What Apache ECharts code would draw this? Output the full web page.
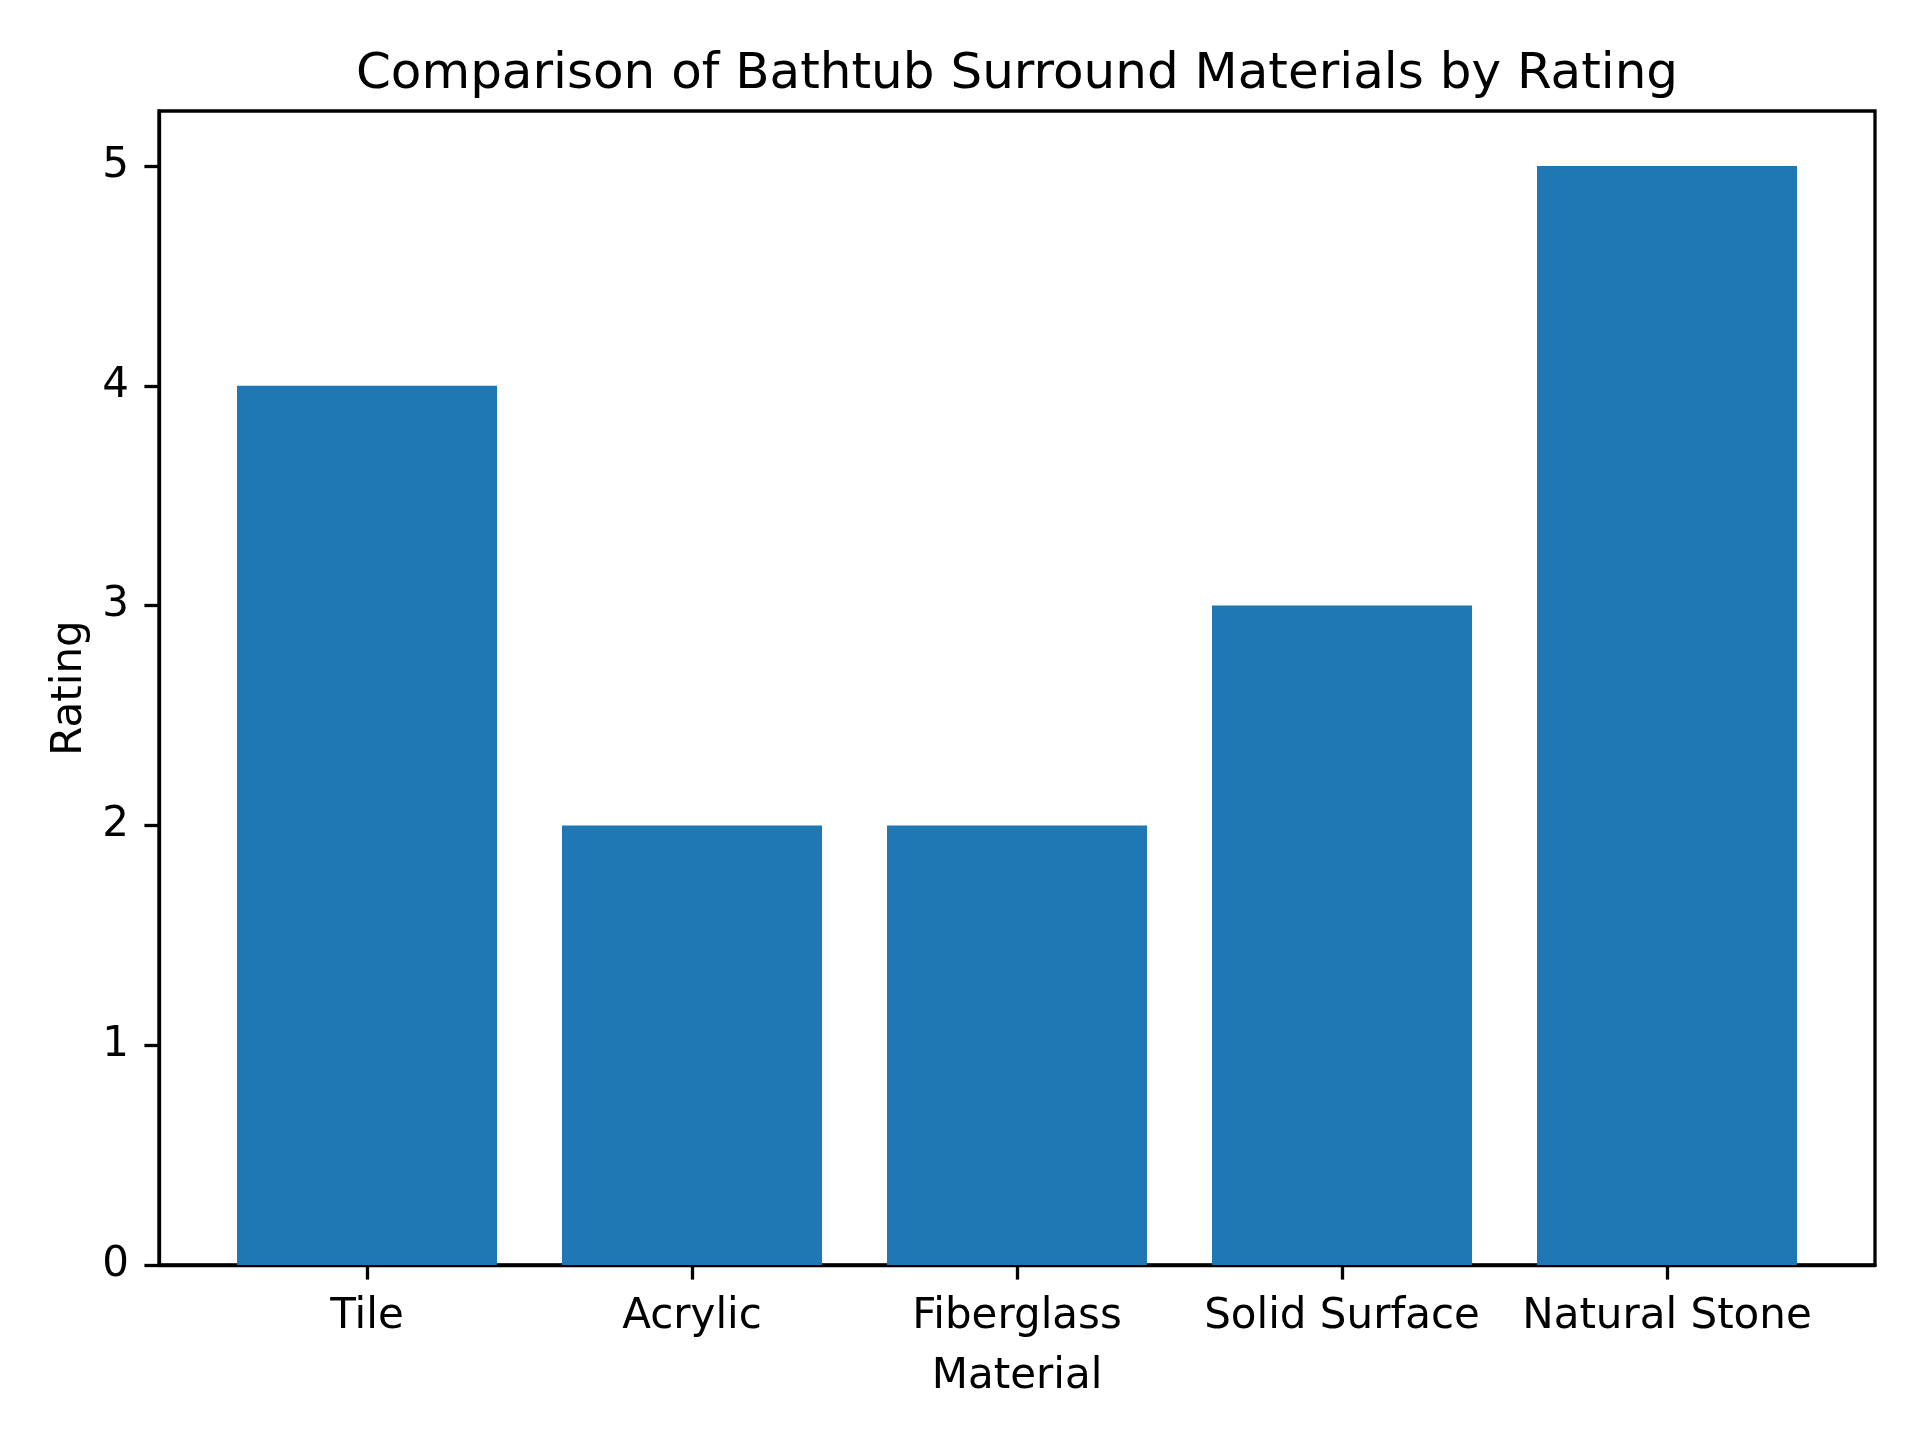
<!DOCTYPE html>
<html>
<head>
<meta charset="utf-8">
<script src="https://cdn.jsdelivr.net/npm/echarts@6/dist/echarts.min.js"></script>
<style>html,body{margin:0;padding:0;background:#fff}#c{width:1920px;height:1440px}</style>
</head>
<body>
<div id="c"></div>
<script>
const categories = ['Tile', 'Acrylic', 'Fiberglass', 'Solid Surface', 'Natural Stone'];
const ratings = [4, 2, 2, 3, 5];
const yTicks = [0, 1, 2, 3, 4, 5];

const FONT = 'DejaVu Sans';
const chart = echarts.init(document.getElementById('c'), null, {renderer: 'canvas'});
const plotW = 1716;
const xMin = -0.64, xMax = categories.length - 1 + 0.64;
const barW = 0.8 * plotW / (xMax - xMin);

chart.setOption({
  animation: false,
  backgroundColor: '#ffffff',
  title: {
    text: 'Comparison of Bathtub Surround Materials by Rating',
    left: 1012, top: 45, textAlign: 'center',
    textStyle: {fontFamily: FONT, fontSize: 50, fontWeight: 'normal', color: '#000'}
  },
  grid: {left: 159, top: 111, width: plotW, height: 1154, show: true, borderColor: '#000', borderWidth: 3.3, containLabel: false},
  xAxis: {
    type: 'value', min: xMin, max: xMax,
    name: 'Material', nameLocation: 'middle', nameGap: 91,
    nameTextStyle: {fontFamily: FONT, fontSize: 42, color: '#000'},
    axisLine: {show: true, onZero: false, lineStyle: {color: '#000', width: 3.3}},
    axisTick: {show: true, length: 14.6, inside: false, customValues: categories.map((_, i) => i), lineStyle: {color: '#000', width: 3.3}},
    axisLabel: {customValues: categories.map((_, i) => i), formatter: v => categories[Math.round(v)] || '', margin: 31, fontFamily: FONT, fontSize: 42, color: '#000'},
    splitLine: {show: false}
  },
  yAxis: {
    type: 'value', min: 0, max: 5.25,
    name: 'Rating', nameLocation: 'middle', nameGap: 68,
    nameTextStyle: {fontFamily: FONT, fontSize: 42, color: '#000'},
    axisLine: {show: true, onZero: false, lineStyle: {color: '#000', width: 3.3}},
    axisTick: {show: true, length: 14.6, customValues: yTicks, lineStyle: {color: '#000', width: 3.3}},
    axisLabel: {customValues: yTicks, margin: 30, padding: [7, 0, 0, 0], fontFamily: FONT, fontSize: 42, color: '#000'},
    splitLine: {show: false}
  },
  series: [{
    type: 'bar',
    data: ratings.map((v, i) => [i, v]),
    barWidth: barW,
    itemStyle: {color: '#1f77b4'}
  }]
});
</script>
</body>
</html>
